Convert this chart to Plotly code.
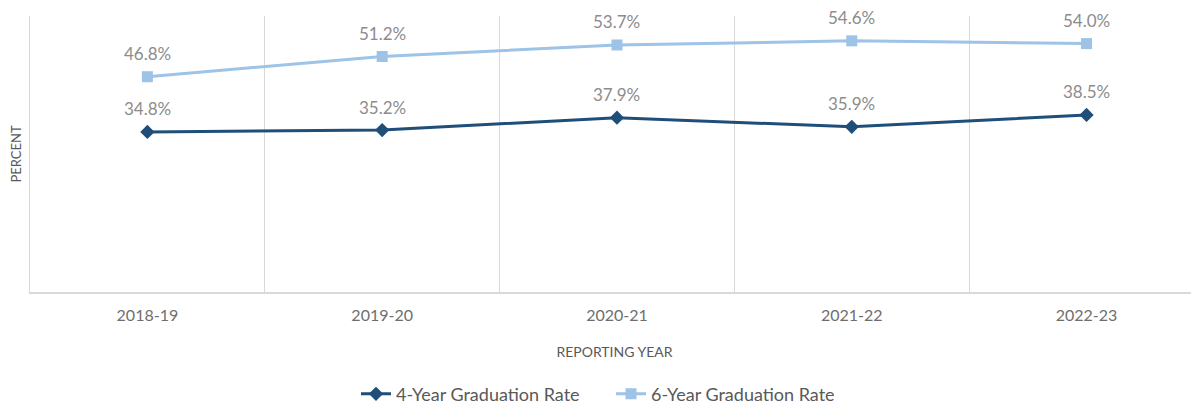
import plotly.graph_objects as go

years = ["2018-19", "2019-20", "2020-21", "2021-22", "2022-23"]
rate4 = [34.8, 35.2, 37.9, 35.9, 38.5]
rate6 = [46.8, 51.2, 53.7, 54.6, 54.0]

FONT = "Lato, Open Sans, sans-serif"
xs = list(range(len(years)))
fig = go.Figure()
fig.add_trace(go.Scatter(x=xs, y=rate4, mode="lines+markers", name="4-Year Graduation Rate",
                         line=dict(color="#1F4E79", width=3),
                         marker=dict(symbol="diamond", size=11, color="#1F4E79")))
fig.add_trace(go.Scatter(x=xs, y=rate6, mode="lines+markers", name="6-Year Graduation Rate",
                         line=dict(color="#9DC3E6", width=3),
                         marker=dict(symbol="square", size=11, color="#9DC3E6")))

for series in (rate4, rate6):
    for x, v in zip(xs, series):
        fig.add_annotation(x=x, y=v, text=f"{v:.1f}%", showarrow=False, yshift=23,
                           font=dict(family=FONT, size=17, color="#8c8c8c"))

fig.update_layout(
    width=1191, height=408,
    margin=dict(l=22, r=0, t=8, b=124),
    plot_bgcolor="white", paper_bgcolor="white",
    font=dict(family=FONT, color="#595959"),
    showlegend=True,
    legend=dict(orientation="h", x=0.497, xanchor="center", y=-0.37, yanchor="middle",
                font=dict(size=18, color="#595959"), entrywidth=210, tracegroupgap=0),
)
fig.update_xaxes(
    range=[-0.5, 4.479], tickvals=xs, ticktext=years, showgrid=False, zeroline=False,
    automargin=False, ticklabelstandoff=8,
    showline=True, linecolor="#d9d9d9", linewidth=1.5,
    tickfont=dict(size=16, color="#6e6e6e"), ticks="",
    minor=dict(tickvals=[0.5, 1.5, 2.5, 3.5], showgrid=True, gridcolor="#d9d9d9", gridwidth=1),
    title=dict(text="REPORTING YEAR", font=dict(size=14, color="#595959"), standoff=24),
)
fig.update_yaxes(
    range=[0, 60], showgrid=False, zeroline=False, showticklabels=False, ticks="",
    automargin=False, showline=True, linecolor="#d9d9d9", linewidth=1,
    title=dict(text="PERCENT", font=dict(size=13, color="#595959"), standoff=4),
)
fig.write_html("out.html")
